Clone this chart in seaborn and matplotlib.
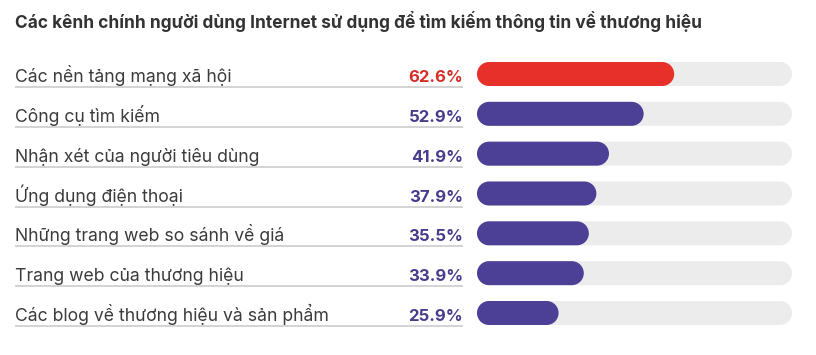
import matplotlib
matplotlib.use("Agg")
import matplotlib.pyplot as plt
import matplotlib.transforms as mtransforms
from matplotlib.path import Path
from matplotlib.patches import PathPatch
import numpy as np
import seaborn as sns
import pandas as pd

title = "Các kênh chính người dùng Internet sử dụng để tìm kiếm thông tin về thương hiệu"
categories = [
    "Các nền tảng mạng xã hội",
    "Công cụ tìm kiếm",
    "Nhận xét của người tiêu dùng",
    "Ứng dụng điện thoại",
    "Những trang web so sánh về giá",
    "Trang web của thương hiệu",
    "Các blog về thương hiệu và sản phẩm",
]
values = [62.6, 52.9, 41.9, 37.9, 35.5, 33.9, 25.9]
highlight = [True, False, False, False, False, False, False]
full_scale = 100

RED_BAR = "#e8302a"
PURPLE_BAR = "#4b3f96"
RED_TXT = "#d52f2a"
PURPLE_TXT = "#483d8c"
TRACK = "#ececec"
LABEL = "#3b3b3b"

sns.set_theme(style="white")
plt.rcParams["font.family"] = ["Inter", "DejaVu Sans"]

W, H = 816, 355
fig = plt.figure(figsize=(W / 100, H / 100), dpi=100)
fig.patch.set_facecolor("white")

x0, x1 = 477, 792
row0, rowN = 74, 313
step = (rowN - row0) / (len(categories) - 1)
top = row0 - step / 2
bot = rowN + step / 2
ax = fig.add_axes([x0 / W, (H - bot) / H, (x1 - x0) / W, (bot - top) / H])

df = pd.DataFrame({"cat": categories, "val": values,
                   "full": [full_scale] * len(categories)})
bar_h = 24 / step

sns.barplot(data=df, y="cat", x="full", color=TRACK, width=bar_h, ax=ax,
            saturation=1, orient="h")
n_track = len(ax.patches)
sns.barplot(data=df, y="cat", x="val", color=PURPLE_BAR, width=bar_h, ax=ax,
            saturation=1, orient="h")
ax.set_xlim(0, full_scale)
ax.set_ylim(len(categories) - 0.5, -0.5)

px_x = full_scale / (x1 - x0)  # data units per pixel in x


def pill(bx, by, bw, bh):
    ry = bh / 2
    rx = min(12 * px_x, bw / 2)
    cy = by + ry
    right = Path.arc(-90, 90)
    left = Path.arc(90, 270)
    rv = right.vertices * [rx, ry] + [bx + bw - rx, cy]
    lv = left.vertices * [rx, ry] + [bx + rx, cy]
    verts = np.vstack([rv, lv, rv[:1]])
    codes = np.concatenate([right.codes, [Path.LINETO], left.codes[1:], [Path.CLOSEPOLY]])
    return Path(verts, codes)


patches = list(ax.patches)
for k, p in enumerate(patches):
    bx, by = p.get_x(), p.get_y()
    bw, bh = p.get_width(), p.get_height()
    if k < n_track:
        col = TRACK
    else:
        col = RED_BAR if highlight[k - n_track] else PURPLE_BAR
    p.remove()
    ax.add_patch(PathPatch(pill(bx, by, bw, bh), facecolor=col, edgecolor="none",
                           zorder=2 if k >= n_track else 1))

ax.set_axis_off()

tr = mtransforms.blended_transform_factory(fig.transFigure, ax.transData)
for i, (c, v, h) in enumerate(zip(categories, values, highlight)):
    ax.text(15 / W, i + 8 / step, c, transform=tr, ha="left", va="baseline",
            fontsize=12.7, color=LABEL)
    ax.text(463 / W, i + 8 / step, f"{v:.1f}%", transform=tr, ha="right",
            va="baseline", fontsize=12, fontweight="bold",
            color=RED_TXT if h else PURPLE_TXT)
    ax.plot([15 / W, 463 / W], [i + 13 / step] * 2, transform=tr,
            color="#cccccc", lw=1.2, clip_on=False, solid_capstyle="butt")

fig.text(15 / W, 1 - 28 / H, title, ha="left", va="baseline",
         fontsize=12.45, fontweight="bold", color="#333333")

fig.savefig("out.png", dpi=100)
